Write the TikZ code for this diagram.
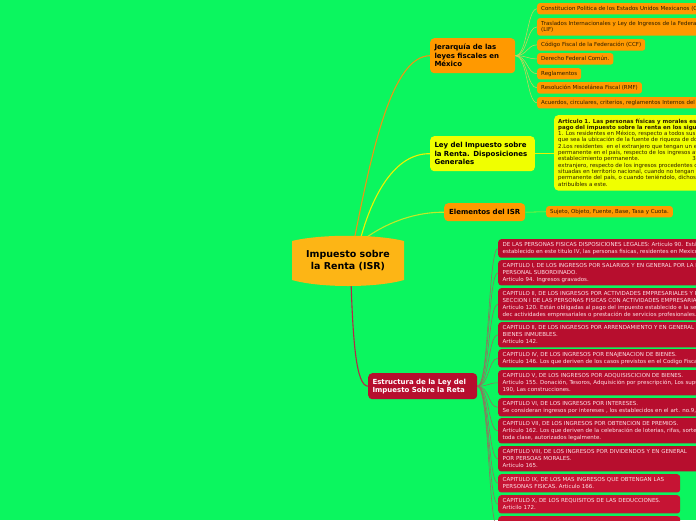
\documentclass[tikz,border=0pt]{standalone}
\usepackage{fontspec}
\setmainfont{DejaVu Sans}
\usetikzlibrary{calc}
\definecolor{bgC}{RGB}{11,246,95}
\definecolor{orangeC}{RGB}{255,153,0}
\definecolor{yellowC}{RGB}{240,255,0}
\definecolor{centralC}{RGB}{253,181,21}
\definecolor{redC}{RGB}{183,14,46}
\definecolor{redD}{RGB}{198,20,52}
\definecolor{pinkT}{RGB}{255,225,230}
\definecolor{brownT}{RGB}{45,28,0}
\definecolor{eJer}{RGB}{235,150,20}
\definecolor{eLey}{RGB}{238,242,0}
\definecolor{eEle}{RGB}{190,235,40}
\definecolor{eEst}{RGB}{180,40,70}
\definecolor{eOl}{RGB}{205,210,90}
\definecolor{eRl}{RGB}{150,110,95}
\pgfdeclarelayer{bg}
\pgfdeclarelayer{edges}
\pgfsetlayers{bg,edges,main}
\tikzset{
  branch/.style={anchor=north west, rounded corners=4pt, inner xsep=4.3pt, inner ysep=3pt,
    align=left, font=\fontsize{7}{8.5}\selectfont\bfseries, text=black},
  oleaf/.style={anchor=north west, fill=orangeC, text=brownT, rounded corners=2.5pt,
    inner xsep=4pt, inner ysep=2.9pt, align=left, font=\fontsize{5.5}{6}\selectfont,
    execute at begin node=\vphantom{Hg}, execute at end node=\vphantom{g}},
  rleaf/.style={anchor=north west, fill=redC, text=pinkT, rounded corners=3pt,
    inner xsep=4.5pt, inner ysep=3pt, align=left, font=\fontsize{5.5}{7}\selectfont,
    execute at begin node=\vphantom{Hg}, execute at end node=\vphantom{g}},
  artbox/.style={anchor=north west, fill=yellowC, text=brownT, rounded corners=4pt,
    inner xsep=4pt, inner ysep=3.4pt, align=left, font=\fontsize{5.5}{6.3}\selectfont,
    execute at begin node=\vphantom{Hg}, execute at end node=\vphantom{g}},
  mainedge/.style={line width=1.1pt},
  leafedge/.style={line width=0.55pt},
}
\begin{document}
\begin{tikzpicture}[x=1pt,y=-1pt]
\useasboundingbox (0,0) rectangle (696,520);
\clip (0,0) rectangle (696,520);
\begin{pgfonlayer}{bg}
\fill[bgC] (0,0) rectangle (696,520);
\end{pgfonlayer}

% central node
\fill[centralC] (292,241) .. controls (320,234) and (376,234) .. (404,241)
  -- (404,280) .. controls (376,288) and (320,288) .. (292,280) -- cycle;
\node[font=\fontsize{9.5}{12}\selectfont\bfseries, align=center, minimum width=112pt,
  minimum height=44pt, text=black] (c) at (348,261) {Impuesto sobre\\la Renta (ISR)};

% branches
\node[branch, fill=orangeC, text width=76.4pt, minimum height=35pt] (jer) at (430,38)
  {Jerarquía de las\\leyes fiscales en\\México};
\node[branch, fill=yellowC, text width=96pt, minimum height=35pt] (ley) at (430,136)
  {Ley del Impuesto sobre\\la Renta. Disposiciones\\Generales};
\node[branch, fill=orangeC, text width=72.4pt, align=center, minimum height=18pt] (ele) at (444,203)
  {Elementos del ISR};
\node[branch, fill=redC, text=white, text width=100.4pt, minimum height=26pt, font=\fontsize{7}{8}\selectfont\bfseries] (est) at (368,373)
  {Estructura de la Ley del\\Impuesto Sobre la Reta};

% orange leaves
\node[oleaf] (o1) at (537,3) {Constitucion Politica de los Estados Unidos Mexicanos (CPEUM)};
\node[oleaf] (o2) at (537,18) {Traslados Internacionales y Ley de Ingresos de la Federación\\(LIF)};
\node[oleaf] (o3) at (537,39) {Código Fiscal de la Federación (CCF)};
\node[oleaf] (o4) at (537,53) {Derecho Federal Común.};
\node[oleaf] (o5) at (537,68) {Reglamentos};
\node[oleaf] (o6) at (537,82) {Resolución Miscelánea Fiscal (RMF)};
\node[oleaf] (o7) at (537,97) {Acuerdos, circulares, criterios, reglamentos Internos del SAT};

% articulo
\node[artbox] (art) at (554,115) {\textbf{Articulo 1. Las personas físicas y morales están obligadas al}\\
\textbf{pago del impuesto sobre la renta en los siguientes casos:}\\
1. Los residentes en México, respecto a todos sus ingresos, cualquiera\\
que sea la ubicación de la fuente de riqueza de donde procedan.\\
2.Los residentes \ en el extranjero que tengan un establecimiento\\
permanente en el país, respecto de los ingresos atribuibles a dicho\\
establecimiento permanente.\hspace{53pt}3. Los residentes en el\\
extranjero, respecto de los ingresos procedentes de fuentes de riqueza\\
situadas en territorio nacional, cuando no tengan un establecimiento\\
permanente del país, o cuando teniéndolo, dichos ingresos no sean\\
atribuibles a este.};

% elementos leaf
\node[oleaf] (suj) at (546,206) {Sujeto, Objeto, Fuente, Base, Tasa y Cuota.};

% red leaves
\node[rleaf] (r1) at (498,239) {DE LAS PERSONAS FISICAS DISPOSICIONES LEGALES: Articulo 90. Están obligadas al pago del impuesto\\establecido en este titulo IV, las personas fisicas, residentes en Mexico que obtengan ingresos};
\node[rleaf] (r2) at (498,260) {CAPITULO I, DE LOS INGRESOS POR SALARIOS Y EN GENERAL POR LA PRESTACION DE UN SERVICIO\\PERSONAL SUBORDINADO.\\Articulo 94. Ingresos gravados.};
\node[rleaf] (r3) at (498,288) {CAPITULO II, DE LOS INGRESOS POR ACTIVIDADES EMPRESARIALES Y PROFESIONALES.\\SECCION I DE LAS PERSONAS FISICAS CON ACTIVIDADES EMPRESARIALES Y PROFESIONALES\\Articulo 120. Están obligadas al pago del impuesto establecido e la sección las personas físicas que perciban ingresos\\dec actividades empresariales o prestación de servicios profesionales.};
\node[rleaf] (r4) at (498,322) {CAPITULO II, DE LOS INGRESOS POR ARRENDAMIENTO Y EN GENERAL POR OTORGAR EL USO O GOCE\\BIENES INMUEBLES.\\Articulo 142.};
\node[rleaf] (r5) at (498,349) {CAPITULO IV, DE LOS INGRESOS POR ENAJENACION DE BIENES.\\Articulo 146. Los que deriven de los casos previstos en el Codigo Fiscal de la Federación.};
\node[rleaf] (r6) at (498,370) {CAPITULO V, DE LOS INGRESOS POR ADQUISISCICION DE BIENES.\\Articulo 155. Donación, Tesoros, Adquisición por prescripción, Los supuestos señalados en los artículos\\190, Las construcciones.};
\node[rleaf] (r7) at (498,398) {CAPITULO VI, DE LOS INGRESOS POR INTERESES.\\Se consideran ingresos por intereses , los establecidos en el art. no.9, de esta Ley.};
\node[rleaf] (r8) at (498,418) {CAPITULO VII, DE LOS INGRESOS POR OBTENCION DE PREMIOS.\\Articulo 162. Los que deriven de la celebración de loterias, rifas, sorteos, juegos con apuestas y concursos de\\toda clase, autorizados legalmente.};
\node[rleaf, text width=200pt] (r9) at (498,446) {CAPITULO VIII, DE LOS INGRESOS POR DIVIDENDOS Y EN GENERAL\\POR PERSOAS MORALES.\\Articulo 165.};
\node[rleaf, fill=redD, text width=173pt] (r10) at (498,474) {CAPITULO IX, DE LOS MAS INGRESOS QUE OBTENGAN LAS\\PERSONAS FISICAS. Articulo 166.};
\node[rleaf, fill=redD, text width=173pt] (r11) at (498,495) {CAPITULO X, DE LOS REQUISITOS DE LAS DEDUCCIONES.\\Articilo 172.};
\node[rleaf, fill=redD, text width=173pt, inner ysep=6pt] (r12) at (498,516) {CAPITULO XI, DE LA DECLARACION ANUAL.\\Articulo 150.};

% connectors
\begin{pgfonlayer}{edges}
\draw[mainedge, eJer] ($(c.north)+(6,2)$) .. controls (372,150) and (392,56) .. (jer.west);
\draw[mainedge, eLey] ($(c.north)+(12,2)$) .. controls (372,195) and (395,153) .. (ley.west);
\draw[mainedge, eEle] ($(c.north)+(14,2)$) .. controls (378,228) and (408,212) .. (ele.west);
\draw[mainedge, eEst] ($(c.south)+(3,-2)$) .. controls (353,340) and (356,386) .. (est.west);
\foreach \n in {o1,o2,o3,o4,o5,o6,o7}
  \draw[leafedge, eOl] (jer.east) .. controls +(12,0) and +(-10,0) .. (\n.west);
\foreach \n in {r1,r2,r3,r4,r5,r6,r7,r8,r9,r10,r11,r12}
  \draw[leafedge, eRl] (est.east) .. controls +(12,0) and +(-10,0) .. (\n.west);
\draw[leafedge, eLey] (ley.east) -- (art.west -| ley.east) -- (art.west);
\draw[leafedge, eEle] (ele.east) -- (suj.west);
\end{pgfonlayer}
\end{tikzpicture}
\end{document}
